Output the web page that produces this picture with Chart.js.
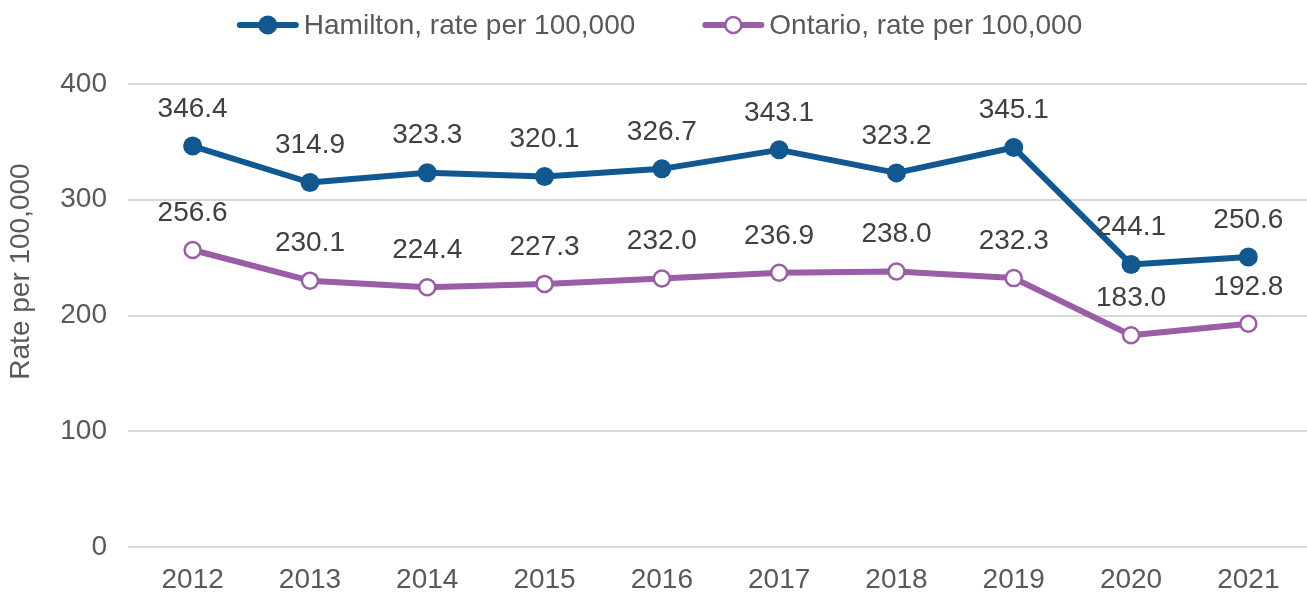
<!DOCTYPE html>
<html>
<head>
<meta charset="utf-8">
<script src="https://cdn.jsdelivr.net/npm/chart.js@4.4.1/dist/chart.umd.min.js"></script>
<style>
  html, body { margin: 0; padding: 0; background: #ffffff; }
  #wrap { width: 1307px; height: 596px; }
</style>
</head>
<body>
<div id="wrap"><canvas id="chart" width="1307" height="596"></canvas></div>
<script>
// Rates per 100,000, by year
const years = ['2012', '2013', '2014', '2015', '2016', '2017', '2018', '2019', '2020', '2021'];
const hamiltonRate = [346.4, 314.9, 323.3, 320.1, 326.7, 343.1, 323.2, 345.1, 244.1, 250.6];
const ontarioRate = [256.6, 230.1, 224.4, 227.3, 232.0, 236.9, 238.0, 232.3, 183.0, 192.8];
const yTicks = [0, 100, 200, 300, 400];
const seriesNames = ['Hamilton, rate per 100,000', 'Ontario, rate per 100,000'];
const yAxisTitle = 'Rate per 100,000';

const FONT = '"Liberation Sans", Arial, sans-serif';
const HAMILTON_BLUE = '#115891';
const ONTARIO_PURPLE = '#9B5CA8';
const TEXT_GREY = '#595959';
const LABEL_GREY = '#404040';

// Value labels above each point, the legend row and the rotated y-axis title
const decorations = {
  id: 'decorations',
  afterDatasetsDraw(chart) {
    const ctx = chart.ctx;
    ctx.save();
    ctx.font = '28px ' + FONT;
    ctx.fillStyle = LABEL_GREY;
    ctx.textAlign = 'center';
    ctx.textBaseline = 'middle';
    chart.data.datasets.forEach((ds, i) => {
      const meta = chart.getDatasetMeta(i);
      meta.data.forEach((pt, j) => {
        ctx.fillText(ds.data[j].toFixed(1), pt.x, pt.y - 37);
      });
    });
    ctx.restore();
  },
  afterDraw(chart) {
    const ctx = chart.ctx;
    ctx.save();
    ctx.font = '28px ' + FONT;
    ctx.textBaseline = 'middle';
    ctx.textAlign = 'left';

    // legend
    const lineLen = 62, textGap = 5, itemGap = 67, legendY = 25;
    const items = chart.data.datasets.map(ds => ({ ds, w: ctx.measureText(ds.label).width }));
    const total = items.reduce((s, it) => s + lineLen + textGap + it.w, 0) + itemGap * (items.length - 1);
    let x = chart.width / 2 + 6 - total / 2;
    items.forEach(({ ds, w }) => {
      ctx.strokeStyle = ds.borderColor;
      ctx.lineWidth = ds.borderWidth;
      ctx.lineCap = 'round';
      ctx.beginPath();
      ctx.moveTo(x + 3, legendY);
      ctx.lineTo(x + lineLen - 3, legendY);
      ctx.stroke();
      ctx.beginPath();
      ctx.arc(x + lineLen / 2, legendY, ds.pointRadius, 0, Math.PI * 2);
      ctx.fillStyle = ds.pointBackgroundColor;
      ctx.fill();
      if (ds.pointBorderWidth > 0) {
        ctx.lineWidth = ds.pointBorderWidth;
        ctx.strokeStyle = ds.pointBorderColor;
        ctx.stroke();
      }
      ctx.fillStyle = TEXT_GREY;
      ctx.fillText(ds.label, x + lineLen + textGap, legendY + 1);
      x += lineLen + textGap + w + itemGap;
    });

    // y-axis title
    const area = chart.chartArea;
    ctx.translate(21, (area.top + area.bottom) / 2 - 44);
    ctx.rotate(-Math.PI / 2);
    ctx.textAlign = 'center';
    ctx.fillStyle = TEXT_GREY;
    ctx.fillText(yAxisTitle, 0, 0);
    ctx.restore();
  }
};

new Chart(document.getElementById('chart'), {
  type: 'line',
  data: {
    labels: years,
    datasets: [
      {
        label: seriesNames[0],
        data: hamiltonRate,
        borderColor: HAMILTON_BLUE,
        backgroundColor: HAMILTON_BLUE,
        borderWidth: 6,
        borderJoinStyle: 'round',
        borderCapStyle: 'round',
        pointRadius: 9.5,
        pointBackgroundColor: HAMILTON_BLUE,
        pointBorderColor: HAMILTON_BLUE,
        pointBorderWidth: 0,
        tension: 0,
        clip: false
      },
      {
        label: seriesNames[1],
        data: ontarioRate,
        borderColor: ONTARIO_PURPLE,
        backgroundColor: ONTARIO_PURPLE,
        borderWidth: 6,
        borderJoinStyle: 'round',
        borderCapStyle: 'round',
        pointRadius: 8,
        pointBackgroundColor: '#ffffff',
        pointBorderColor: ONTARIO_PURPLE,
        pointBorderWidth: 2.5,
        tension: 0,
        clip: false
      }
    ]
  },
  options: {
    responsive: false,
    animation: false,
    devicePixelRatio: 1,
    layout: { padding: { top: 84, right: 0, bottom: 0, left: 0 }, autoPadding: false },
    plugins: {
      legend: { display: false },
      tooltip: { enabled: false }
    },
    scales: {
      x: {
        type: 'category',
        offset: true,
        grid: { display: false, drawTicks: false },
        border: { display: false },
        ticks: {
          color: TEXT_GREY,
          font: { family: FONT, size: 28 },
          padding: 16,
          maxRotation: 0,
          autoSkip: false
        },
        afterFit(scale) { scale.height = 49; }
      },
      y: {
        min: yTicks[0],
        max: yTicks[yTicks.length - 1],
        afterBuildTicks(scale) { scale.ticks = yTicks.map(v => ({ value: v })); },
        grid: { color: '#D9D9D9', lineWidth: 2, drawTicks: true, tickLength: 6 },
        border: { display: false },
        ticks: {
          color: TEXT_GREY,
          font: { family: FONT, size: 28 },
          padding: 21
        },
        afterFit(scale) { scale.width = 134; }
      }
    }
  },
  plugins: [decorations]
});
</script>
</body>
</html>
